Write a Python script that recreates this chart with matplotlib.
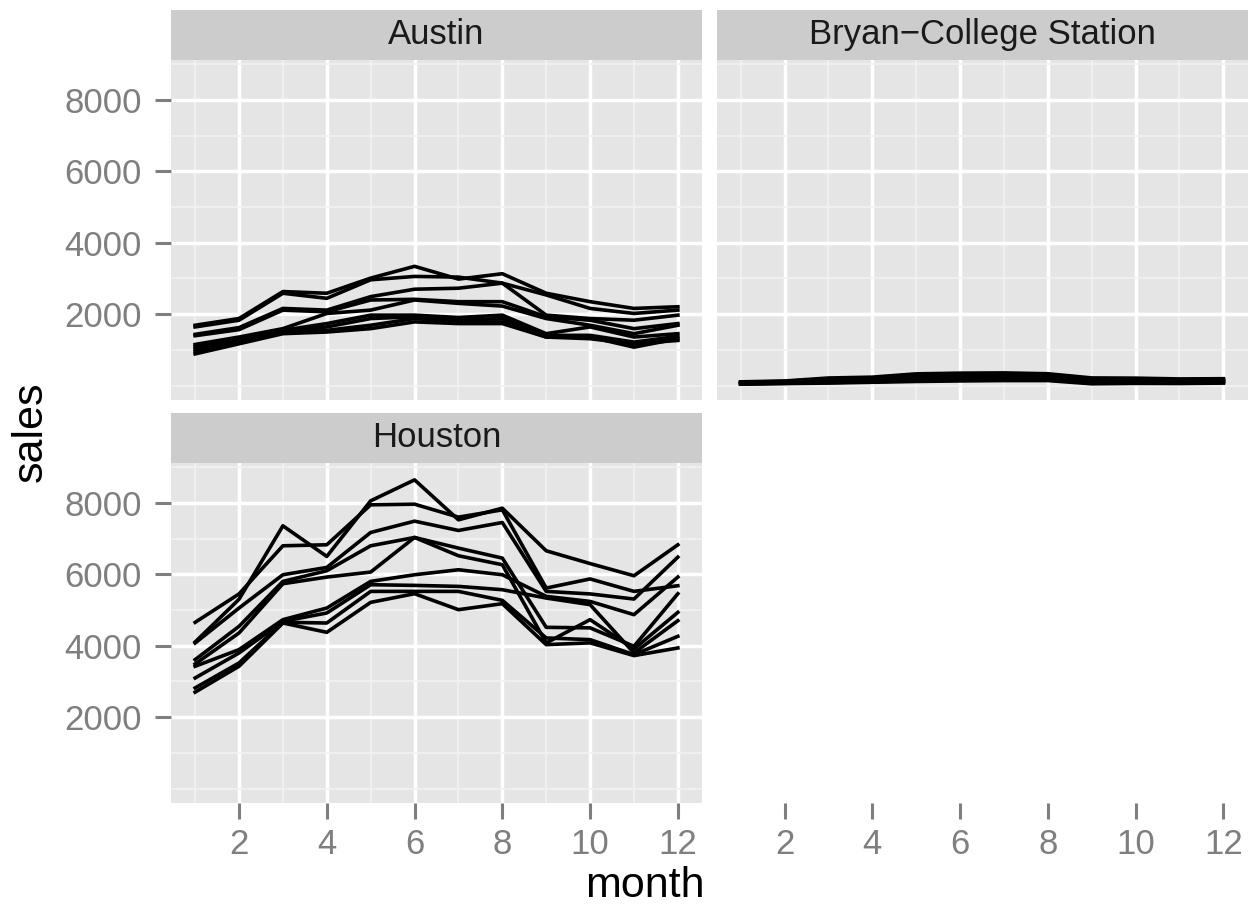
import matplotlib.pyplot as plt

plt.rcParams["font.family"] = ["Liberation Sans", "DejaVu Sans"]

months = list(range(1, 13))

# sales per month, one row per year
austin_sales = [
    [1689, 1877, 2632, 2585, 3009, 3339, 2981, 3132, 2585, 2349, 2160, 2207],
    [1642, 1830, 2585, 2443, 2962, 3056, 3037, 2868, 2538, 2160, 2019, 2113],
    [1434, 1623, 2160, 2113, 2490, 2698, 2726, 2868, 1972, 1877, 1830, 1972],
    [1396, 1566, 2113, 2066, 2396, 2415, 2349, 2349, 1925, 1830, 1594, 1736],
    [1151, 1359, 1594, 2019, 2113, 2396, 2302, 2226, 1877, 1689, 1453, 1689],
    [1095, 1312, 1547, 1736, 1972, 1972, 1906, 1972, 1453, 1642, 1359, 1453],
    [1029, 1264, 1500, 1642, 1877, 1925, 1830, 1877, 1406, 1406, 1217, 1378],
    [963, 1217, 1472, 1547, 1689, 1877, 1783, 1783, 1359, 1359, 1076, 1312],
    [887, 1170, 1453, 1500, 1594, 1783, 1736, 1736, 1359, 1312, 1170, 1264],
]

bcs_sales = [
    [105, 128, 212, 236, 328, 348, 355, 331, 214, 208, 186, 192],
    [92, 118, 185, 210, 296, 322, 330, 305, 188, 180, 165, 171],
    [84, 104, 168, 190, 270, 290, 305, 288, 160, 166, 150, 158],
    [76, 96, 150, 172, 245, 266, 280, 262, 140, 148, 131, 142],
    [68, 88, 132, 155, 220, 240, 252, 240, 120, 130, 118, 126],
    [60, 80, 118, 140, 196, 215, 228, 220, 105, 112, 100, 110],
    [52, 72, 100, 124, 170, 188, 200, 196, 88, 98, 86, 96],
    [46, 64, 84, 108, 140, 160, 172, 170, 68, 80, 74, 84],
    [40, 56, 70, 92, 115, 130, 140, 140, 50, 62, 58, 70],
]

houston_sales = [
    [4104, 5300, 7357, 6500, 8057, 8644, 7525, 7851, 6658, 6300, 5959, 6826],
    [4654, 5450, 6798, 6826, 7945, 7963, 7600, 7805, 5614, 5870, 5521, 5680],
    [4076, 5055, 5987, 6192, 7171, 7488, 7227, 7450, 5521, 5450, 5307, 6481],
    [3610, 4542, 5801, 6099, 6798, 7031, 6733, 6453, 4515, 4500, 3984, 5456],
    [3489, 4356, 5736, 5922, 6062, 7031, 6519, 6267, 4077, 4730, 3909, 4934],
    [3424, 3890, 4729, 5055, 5801, 5987, 6127, 5987, 5381, 5240, 4869, 5922],
    [3097, 3797, 4683, 4916, 5708, 5689, 5661, 5568, 5335, 5150, 3797, 4701],
    [2818, 3517, 4655, 4636, 5521, 5521, 5521, 5270, 4217, 4170, 3750, 4263],
    [2700, 3424, 4636, 4375, 5214, 5456, 5009, 5177, 4030, 4080, 3723, 3937],
]

x_major = [2, 4, 6, 8, 10, 12]
x_minor = [1, 3, 5, 7, 9, 11]
y_major = [2000, 4000, 6000, 8000]
y_minor = [0, 1000, 3000, 5000, 7000, 9000]

W, H = 1256, 923
fig = plt.figure(figsize=(W / 100, H / 100), dpi=100)


def px_axes(left, top, width, height):
    return fig.add_axes([left / W, 1 - (top + height) / H, width / W, height / H])


def style_panel(ax):
    ax.set_facecolor("#E5E5E5")
    ax.set_xlim(0.45, 12.55)
    ax.set_ylim(-390, 9130)
    ax.set_xticks(x_major)
    ax.set_xticks(x_minor, minor=True)
    ax.set_yticks(y_major)
    ax.set_yticks(y_minor, minor=True)
    ax.grid(which="minor", color="#F2F2F2", linewidth=1.2)
    ax.grid(which="major", color="white", linewidth=2.5)
    ax.set_axisbelow(True)
    for s in ax.spines.values():
        s.set_visible(False)
    ax.tick_params(which="minor", length=0)
    ax.tick_params(which="major", length=11.3, width=2.2, color="#7F7F7F",
                   labelcolor="#7F7F7F", labelsize=25)
    ax.tick_params(axis="y", pad=9.5)
    ax.tick_params(axis="x", pad=7)


def strip(left, top, width, label):
    sax = px_axes(left, top, width, 50)
    sax.set_facecolor("#CCCCCC")
    sax.set_xticks([])
    sax.set_yticks([])
    for s in sax.spines.values():
        s.set_visible(False)
    sax.text(0.5, 0.5, label, ha="center", va="center", fontsize=25,
             color="#1A1A1A", transform=sax.transAxes)


panels = [
    ("Austin", austin_sales, 171, 59.5),
    ("Bryan\u2212College Station", bcs_sales, 716.5, 59.5),
    ("Houston", houston_sales, 171, 462.5),
]

for name, data, left, top in panels:
    ax = px_axes(left, top, 531, 340)
    style_panel(ax)
    for row in data:
        ax.plot(months, row, color="black", linewidth=2.6)
    strip(left, top - 50, 531, name)
    if name == "Austin":
        ax.tick_params(axis="x", bottom=False, labelbottom=False)
    elif name.startswith("Bryan"):
        ax.tick_params(axis="both", bottom=False, labelbottom=False,
                       left=False, labelleft=False)

# x axis for the Bryan-College Station column, drawn at the bottom row
bx = px_axes(716.5, 462.5, 531, 340)
bx.set_xlim(0.45, 12.55)
bx.set_xticks(x_major)
bx.set_yticks([])
bx.patch.set_visible(False)
for s in bx.spines.values():
    s.set_visible(False)
bx.tick_params(axis="x", length=11.3, width=2.2, color="#7F7F7F",
               labelcolor="#7F7F7F", labelsize=25, pad=7)

fig.text(645 / W, 1 - 897 / H, "month", ha="center", va="baseline", fontsize=31)
fig.text(31 / W, 1 - 432 / H, "sales", ha="center", va="center", rotation=90, fontsize=31)

fig.savefig("out.png", dpi=100)
